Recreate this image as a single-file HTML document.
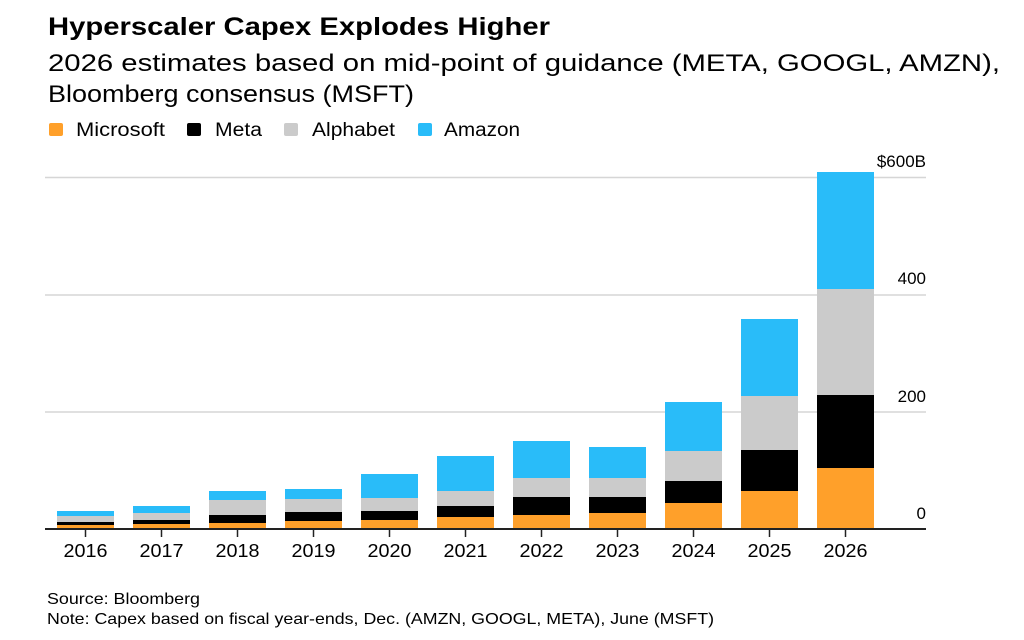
<!DOCTYPE html>
<html><head><meta charset="utf-8"><style>
html,body{margin:0;padding:0;background:#fff;}
svg{display:block;font-family:"Liberation Sans",sans-serif;}
</style></head><body>
<svg width="1024" height="640" viewBox="0 0 1024 640" xmlns="http://www.w3.org/2000/svg">
<text x="48" y="35" font-size="25" font-weight="bold" fill="#000" textLength="502" lengthAdjust="spacingAndGlyphs">Hyperscaler Capex Explodes Higher</text>
<text x="48" y="71" font-size="24" fill="#000" textLength="952" lengthAdjust="spacingAndGlyphs">2026 estimates based on mid-point of guidance (META, GOOGL, AMZN),</text>
<text x="48" y="102" font-size="24" fill="#000" textLength="366" lengthAdjust="spacingAndGlyphs">Bloomberg consensus (MSFT)</text>
<rect x="49" y="123" width="14" height="13" rx="2" fill="#ffa02a"/>
<text x="76" y="136" font-size="19" textLength="89" lengthAdjust="spacingAndGlyphs">Microsoft</text>
<rect x="187" y="123" width="14" height="13" rx="2" fill="#000"/>
<text x="215" y="136" font-size="19" textLength="47" lengthAdjust="spacingAndGlyphs">Meta</text>
<rect x="284" y="123" width="14" height="13" rx="2" fill="#cbcbcb"/>
<text x="312" y="136" font-size="19" textLength="83" lengthAdjust="spacingAndGlyphs">Alphabet</text>
<rect x="418" y="123" width="14" height="13" rx="2" fill="#29bcf9"/>
<text x="444" y="136" font-size="19" textLength="76" lengthAdjust="spacingAndGlyphs">Amazon</text>
<g stroke="#d6d6d6" stroke-width="1.5">
<line x1="45" y1="177.5" x2="926" y2="177.5"/>
<line x1="45" y1="295" x2="926" y2="295"/>
<line x1="45" y1="412" x2="926" y2="412"/>
</g>
<g font-size="17" text-anchor="end" fill="#000">
<text x="926" y="167">$600B</text>
<text x="926" y="284">400</text>
<text x="926" y="402">200</text>
<text x="926" y="519">0</text>
</g>
<g id="bars"></g>
<script>
var d=[[57,511,516,522,525],[133,506,513,520,524],[209,491,500,515,523],[285,489,499,512,521],[361,474,498,511,520],[437,456,491,506,517],[513,441,478,497,515],[589,447,478,497,513],[665,402,451,481,503],[741,319,396,450,491],[817,172,289,395,468]];
var cols=["#29bcf9","#cbcbcb","#000","#ffa02a"];
var g=document.getElementById("bars"),ns="http://www.w3.org/2000/svg";
var years=["2016","2017","2018","2019","2020","2021","2022","2023","2024","2025","2026"];
d.forEach(function(b,i){
 for(var k=0;k<4;k++){var top=b[k+1],bot=k<3?b[k+2]:529;var r=document.createElementNS(ns,"rect");
 r.setAttribute("x",b[0]);r.setAttribute("y",top);r.setAttribute("width",57);r.setAttribute("height",bot-top);r.setAttribute("fill",cols[k]);g.appendChild(r);}
 var t=document.createElementNS(ns,"line");t.setAttribute("x1",b[0]+28.5);t.setAttribute("x2",b[0]+28.5);t.setAttribute("y1",529);t.setAttribute("y2",537);t.setAttribute("stroke","#222");t.setAttribute("stroke-width","1.5");g.appendChild(t);
 var tx=document.createElementNS(ns,"text");tx.setAttribute("x",b[0]+28.5);tx.setAttribute("y",557);tx.setAttribute("font-size","18");tx.setAttribute("text-anchor","middle");tx.setAttribute("textLength","44");tx.setAttribute("lengthAdjust","spacingAndGlyphs");tx.textContent=years[i];g.appendChild(tx);
});
</script>
<line x1="45" y1="529" x2="926" y2="529" stroke="#222" stroke-width="2"/>
<text x="47" y="604" font-size="16" textLength="153" lengthAdjust="spacingAndGlyphs">Source: Bloomberg</text>
<text x="47" y="624" font-size="16" textLength="667" lengthAdjust="spacingAndGlyphs">Note: Capex based on fiscal year-ends, Dec. (AMZN, GOOGL, META), June (MSFT)</text>
</svg>
</body></html>
